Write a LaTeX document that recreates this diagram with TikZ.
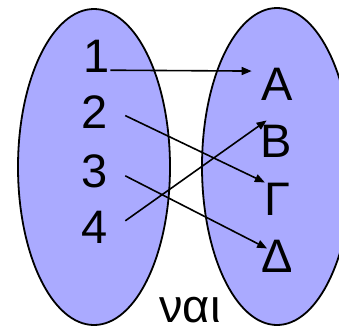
\documentclass[tikz,border=0pt]{standalone}
\usepackage{fontspec}
\setmainfont{Liberation Sans}
\usetikzlibrary{arrows.meta}
\definecolor{setblue}{RGB}{170,170,255}

\begin{document}
\begin{tikzpicture}[x=1pt, y=-1pt,
  setshape/.style={draw, line width=1.8pt, fill=setblue},
  lab/.style={inner sep=0pt, anchor=base, font=\fontsize{47}{56}\selectfont},
  arr/.style={-{Triangle[length=10pt, width=8pt]}, line width=1.6pt}]
  \clip (0,0) rectangle (339,327);
  \draw[setshape] (94,167) ellipse [x radius=76, y radius=158];
  \draw[setshape] (277,166.5) ellipse [x radius=75, y radius=158.5];
  \node[lab] (n1) at (97,72) {1};
  \node[lab] (n2) at (95,128) {2};
  \node[lab] (n3) at (95,187) {3};
  \node[lab] (n4) at (95,243) {4};
  \node[lab] (lA) at (277,100) {A};
  \node[lab] (lB) at (276,157) {B};
  \node[lab] (lG) at (277,215) {Γ};
  \node[lab] (lD) at (277,272) {Δ};
  \node[lab] (yes) at (190,322) {ναι};
  \draw[arr] ([yshift=2pt]n1.south east) -- ([xshift=-9.5pt, yshift=-3.6pt]lA.north west);
  \draw[arr] ([xshift=17pt, yshift=-4pt]n2.east) -- ([xshift=1pt]lG.north west);
  \draw[arr] ([xshift=17pt, yshift=-5pt]n3.east) -- ([xshift=6pt, yshift=-9pt]lD.north west);
  \draw[arr] ([xshift=17pt, yshift=6pt]n4.east) -- ([xshift=6.5pt, yshift=4pt]lB.north west);
\end{tikzpicture}
\end{document}
